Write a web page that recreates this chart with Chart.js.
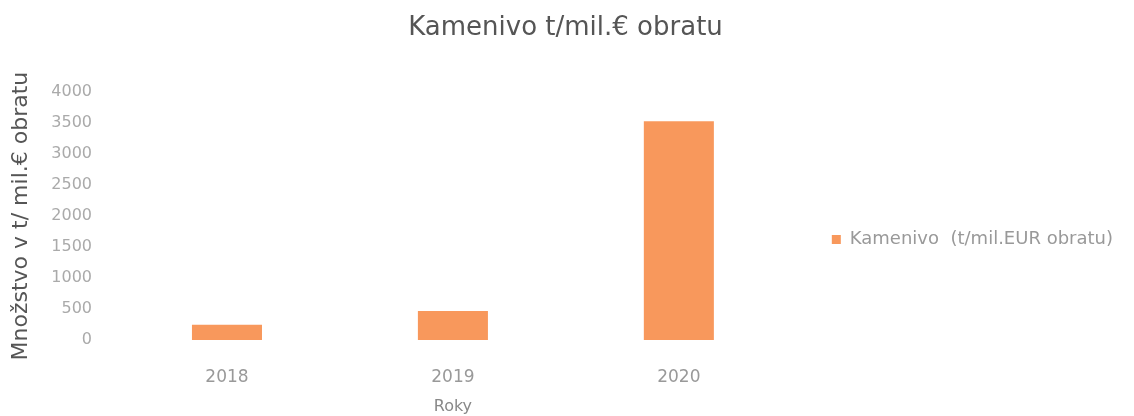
<!DOCTYPE html>
<html>
<head>
<meta charset="utf-8">
<script src="https://cdn.jsdelivr.net/npm/chart.js@4"></script>
<style>
  html, body { margin: 0; padding: 0; background: #fff; }
  #wrap { width: 1134px; height: 416px; }
</style>
</head>
<body>
<div id="wrap"><canvas id="chart"></canvas></div>
<script>
const chart = document.querySelector("#chart").getContext("2d");

const years = ["2018", "2019", "2020"];
const kamenivo = [245, 470, 3530];
const yTicks = [0, 500, 1000, 1500, 2000, 2500, 3000, 3500, 4000];

const font = "'DejaVu Sans', sans-serif";

new Chart(chart, {
  type: "bar",
  data: {
    labels: years,
    datasets: [
      {
        label: "Kamenivo  (t/mil.EUR obratu)",
        data: kamenivo,
        backgroundColor: "#f8985c",
        categoryPercentage: 1,
        barPercentage: 0.31,
      },
    ],
  },
  options: {
    responsive: true,
    maintainAspectRatio: false,
    animation: false,
    layout: { padding: { left: 8, right: 11, top: 13, bottom: 0 } },
    plugins: {
      title: {
        display: true,
        text: "Kamenivo t/mil.€ obratu",
        color: "#555",
        font: { family: font, size: 26, weight: "normal" },
        padding: { top: 0, bottom: 48 },
      },
      legend: {
        position: "right",
        maxWidth: 400,
        // empty legend title, only pushes the item a bit lower like in the picture
        title: {
          display: true,
          text: "",
          font: { family: font, size: 10 },
          padding: { top: 19, bottom: 19 },
        },
        labels: {
          color: "#999",
          font: { family: font, size: 18 },
          boxWidth: 9,
          boxHeight: 9,
          padding: 40,
        },
      },
      tooltip: { enabled: false },
    },
    scales: {
      x: {
        afterFit: (axis) => {
          axis.height = 76;
        },
        grid: { display: false, drawTicks: false },
        border: { display: false },
        ticks: { color: "#999", font: { family: font, size: 17 }, padding: 27 },
        title: {
          display: true,
          text: "Roky",
          color: "#888",
          font: { family: font, size: 16 },
          padding: { top: 4, bottom: 0 },
        },
      },
      y: {
        min: 0,
        max: 4000,
        afterBuildTicks: (axis) => {
          axis.ticks = yTicks.map((v) => ({ value: v }));
        },
        afterFit: (axis) => {
          axis.width = 106;
        },
        grid: { display: false, drawTicks: false },
        border: { display: false },
        ticks: {
          color: "#aaa",
          font: { family: font, size: 16 },
          padding: 22,
          callback: (v) => String(v),
        },
        title: {
          display: true,
          text: "Množstvo v t/ mil.€ obratu",
          color: "#555",
          font: { family: font, size: 22 },
          padding: { top: 0, bottom: 0 },
        },
      },
    },
  },
});
</script>
</body>
</html>
